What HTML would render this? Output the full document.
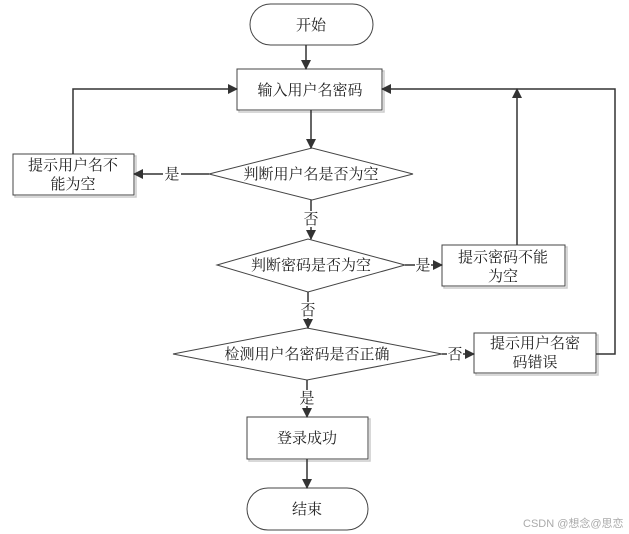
<!DOCTYPE html>
<html><head><meta charset="utf-8"><style>
html,body{margin:0;padding:0;background:#fff;}
svg{display:block;}
text{font-family:"Liberation Serif","Noto Serif CJK SC",serif;font-size:15px;fill:#222;}
</style></head><body>
<svg width="629" height="534" viewBox="0 0 629 534" xmlns="http://www.w3.org/2000/svg">
<defs>
<marker id="a" markerWidth="10" markerHeight="10" refX="9" refY="5" orient="auto" markerUnits="userSpaceOnUse">
<path d="M0,0 L10,5 L0,10 Z" fill="#333"/></marker>
</defs>
<g fill="none" stroke="#ccc" stroke-width="1.5">
<rect x="239" y="71" width="145" height="41"/>
<rect x="15" y="156" width="121" height="41"/>
<rect x="444" y="247" width="123" height="41"/>
<rect x="476" y="335" width="122" height="40"/>
<rect x="249" y="419" width="121" height="42"/>
</g>
<g fill="#fff" stroke="#444" stroke-width="1">
<rect x="250" y="4" width="123" height="41" rx="20.5"/>
<rect x="237" y="69" width="145" height="41"/>
<polygon points="209,174 312,148 413,174 312,200"/>
<rect x="13" y="154" width="121" height="41"/>
<polygon points="217,265 308,239 405,265 308,292"/>
<rect x="442" y="245" width="123" height="41"/>
<polygon points="173,354 307,328 442,354 307,380"/>
<rect x="474" y="333" width="122" height="40"/>
<rect x="247" y="417" width="121" height="42"/>
<rect x="247" y="488" width="121" height="42" rx="21"/>
</g>
<g fill="none" stroke="#333" stroke-width="1.5" marker-end="url(#a)">
<line x1="306" y1="45" x2="306" y2="69"/>
<line x1="311" y1="110" x2="311" y2="148"/>
<polyline points="73,154 73,89 237,89"/>
<line x1="209" y1="174" x2="134" y2="174"/>
<line x1="311" y1="200" x2="311" y2="239"/>
<line x1="405" y1="265" x2="442" y2="265"/>
<polyline points="517,245 517,89"/>
<line x1="308" y1="292" x2="308" y2="328"/>
<line x1="442" y1="354" x2="474" y2="354"/>
<polyline points="596,354 615,354 615,89 382,89"/>
<line x1="307" y1="380" x2="307" y2="417"/>
<line x1="307" y1="459" x2="307" y2="488"/>
</g>
<g text-anchor="middle">
<rect x="163" y="166" width="18" height="16" fill="#fff"/>
<text x="172" y="179">是</text>
<rect x="302" y="211" width="18" height="16" fill="#fff"/>
<text x="311" y="224">否</text>
<rect x="415" y="257" width="16" height="16" fill="#fff"/>
<text x="423" y="270">是</text>
<rect x="299" y="302" width="18" height="16" fill="#fff"/>
<text x="308" y="315">否</text>
<rect x="447" y="346" width="16" height="16" fill="#fff"/>
<text x="455" y="359">否</text>
<rect x="298" y="390" width="18" height="16" fill="#fff"/>
<text x="307" y="403">是</text>
<text x="311" y="30">开始</text>
<text x="310" y="95">输入用户名密码</text>
<text x="311" y="179">判断用户名是否为空</text>
<text x="73" y="170">提示用户名不</text>
<text x="73" y="189">能为空</text>
<text x="311" y="270">判断密码是否为空</text>
<text x="503" y="262">提示密码不能</text>
<text x="503" y="281">为空</text>
<text x="307" y="359">检测用户名密码是否正确</text>
<text x="535" y="348">提示用户名密</text>
<text x="535" y="367">码错误</text>
<text x="307" y="443">登录成功</text>
<text x="307" y="514">结束</text>
</g>
<text x="523" y="527" style="font-family:'Liberation Sans','Noto Sans CJK SC',sans-serif;font-size:11px;fill:#aaa">CSDN @想念@思恋</text>
</svg>
</body></html>
